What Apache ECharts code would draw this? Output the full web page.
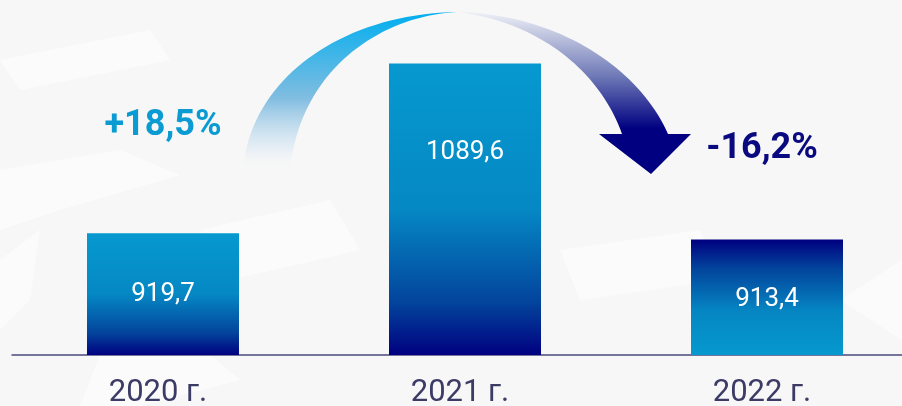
<!DOCTYPE html>
<html>
<head>
<meta charset="utf-8">
<script src="https://cdn.jsdelivr.net/npm/echarts@6/dist/echarts.min.js"></script>
<style>
  html, body { margin: 0; padding: 0; background: #f7f7f7; }
  #chart { width: 902px; height: 406px; }
</style>
</head>
<body>
<div id="chart"></div>
<script>
// Years and yearly totals
const categories = ['2020 г.', '2021 г.', '2022 г.'];
const values = [919.7, 1089.6, 913.4];
// vertical nudge of each value label inside its bar
const labelOffsets = [0, -57, 2];

const chart = echarts.init(document.getElementById('chart'), null, { renderer: 'canvas' });

const fmt = v => v.toFixed(1).replace('.', ',');
const pct = (a, b) => {
  const p = (b / a - 1) * 100;
  return (p > 0 ? '+' : '') + p.toFixed(1).replace('.', ',') + '%';
};

const riseGrad = new echarts.graphic.LinearGradient(0, 0, 0, 1, [
  { offset: 0, color: '#0699cf' },
  { offset: 0.5, color: '#0588c4' },
  { offset: 0.82, color: '#03449c' },
  { offset: 1, color: '#000080' }
]);
const fallGrad = new echarts.graphic.LinearGradient(0, 0, 0, 1, [
  { offset: 0, color: '#000080' },
  { offset: 0.25, color: '#03449c' },
  { offset: 0.62, color: '#0586c3' },
  { offset: 1, color: '#0699cf' }
]);

// faint light shapes in the backdrop
const bgShapes = [
  [[0, 60], [150, 30], [170, 60], [20, 90]],
  [[0, 170], [120, 150], [180, 175], [60, 210], [0, 230]],
  [[0, 260], [40, 230], [30, 300], [0, 330]],
  [[200, 230], [330, 200], [360, 250], [230, 280]],
  [[560, 250], [700, 230], [720, 280], [580, 300]],
  [[840, 300], [902, 260], [902, 340]],
  [[100, 355], [180, 330], [240, 380], [140, 406], [80, 406]]
];

// sample a cubic bezier into polygon points
function cubic(p0, p1, p2, p3, n) {
  const pts = [];
  for (let i = 0; i <= n; i++) {
    const t = i / n, u = 1 - t;
    pts.push([
      u * u * u * p0[0] + 3 * u * u * t * p1[0] + 3 * u * t * t * p2[0] + t * t * t * p3[0],
      u * u * u * p0[1] + 3 * u * u * t * p1[1] + 3 * u * t * t * p2[1] + t * t * t * p3[1]
    ]);
  }
  return pts;
}

const leftBand = cubic([243, 170], [250, 80], [340, 14], [457, 12], 40)
  .concat(cubic([457, 12], [380, 16], [300, 70], [290, 170], 40));
const rightBand = cubic([457, 12], [560, 14], [640, 70], [668, 134], 40)
  .concat([[691, 134], [651, 174], [599, 134], [622, 134]])
  .concat(cubic([622, 134], [600, 72], [540, 22], [457, 12], 40));

chart.setOption({
  backgroundColor: '#f7f7f7',
  animation: false,
  grid: { left: 12, width: 906, top: 3, bottom: 51, outerBoundsMode: 'none', containLabel: false },
  xAxis: {
    type: 'category',
    data: categories,
    axisTick: { show: false },
    axisLine: { show: true, lineStyle: { color: '#4b4b7d', width: 1.5 } },
    axisLabel: {
      color: '#3b3b66',
      fontFamily: 'Roboto',
      fontSize: 31,
      margin: 23,
      padding: [0, 10, 0, 0]
    }
  },
  yAxis: {
    type: 'value',
    min: 798,
    max: 1150,
    show: false,
    splitLine: { show: false }
  },
  series: [{
    type: 'bar',
    barWidth: 152,
    data: values.map((v, i) => ({
      value: v,
      itemStyle: { color: i === 2 ? fallGrad : riseGrad },
      label: { offset: [0, labelOffsets[i]] }
    })),
    label: {
      show: true,
      position: 'inside',
      color: '#ffffff',
      fontFamily: 'Roboto',
      fontSize: 26,
      formatter: p => fmt(p.value)
    }
  }]
});

// curved arrow between the bars and the percentage changes
const c0 = chart.convertToPixel({ xAxisIndex: 0 }, categories[0]);
const c2 = chart.convertToPixel({ xAxisIndex: 0 }, categories[2]);
chart.setOption({
  graphic: bgShapes.map(pts => ({
    type: 'polygon', silent: true, z: -10,
    shape: { points: pts },
    style: { fill: 'rgba(255,255,255,0.55)' }
  })).concat([
    {
      type: 'polygon', silent: true, z: 5,
      shape: { points: leftBand },
      style: {
        fill: new echarts.graphic.LinearGradient(0, 0, 0, 1, [
          { offset: 0, color: '#00aeef' },
          { offset: 0.55, color: '#82bde0' },
          { offset: 0.88, color: 'rgba(225,235,245,0.6)' },
          { offset: 1, color: 'rgba(247,247,247,0)' }
        ])
      }
    },
    {
      type: 'polygon', silent: true, z: 5,
      shape: { points: rightBand },
      style: {
        fill: new echarts.graphic.LinearGradient(0, 0, 0, 1, [
          { offset: 0, color: '#eef0f6' },
          { offset: 0.4, color: '#6d78b6' },
          { offset: 0.72, color: '#000080' },
          { offset: 1, color: '#000080' }
        ])
      }
    },
    {
      type: 'text', silent: true, z: 6,
      x: c0, y: 126,
      style: {
        text: pct(values[0], values[1]),
        fill: '#0a9bd2',
        font: 'bold 36px Roboto',
        align: 'center',
        verticalAlign: 'middle'
      }
    },
    {
      type: 'text', silent: true, z: 6,
      x: c2 - 5, y: 149,
      style: {
        text: pct(values[1], values[2]),
        fill: '#0a0a80',
        font: 'bold 36px Roboto',
        align: 'center',
        verticalAlign: 'middle'
      }
    }
  ])
});
</script>
</body>
</html>
